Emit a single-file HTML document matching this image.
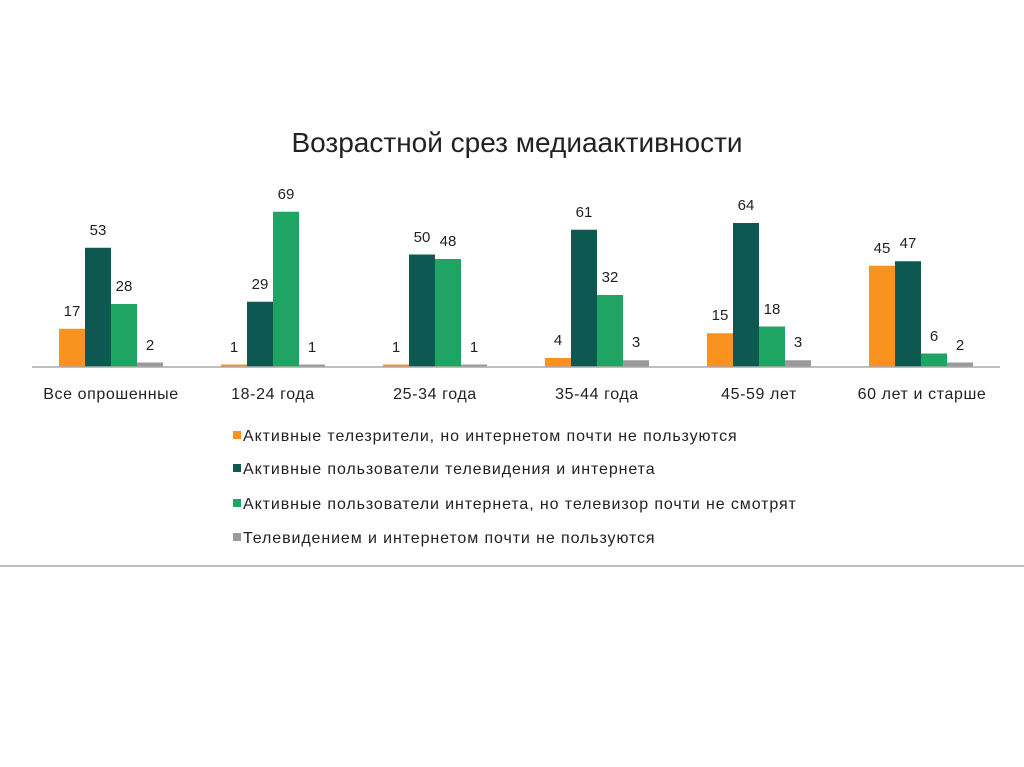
<!DOCTYPE html>
<html><head><meta charset="utf-8"><style>
html,body{margin:0;padding:0;background:#fff;}
svg{display:block;}
text{font-family:"Liberation Sans",sans-serif;fill:#222;}
</style></head><body>
<svg width="1024" height="767" viewBox="0 0 1024 767" xmlns="http://www.w3.org/2000/svg">
<rect width="1024" height="767" fill="#fff"/>
<text x="517" y="152" font-size="28" text-anchor="middle" fill="#333">Возрастной срез медиаактивности</text>
<g>
<rect x="59" y="328.75" width="26" height="38.25" fill="#f7931e"/>
<rect x="85" y="247.75" width="26" height="119.25" fill="#0d5850"/>
<rect x="111" y="304" width="26" height="63" fill="#1fa463"/>
<rect x="137" y="362.5" width="26" height="4.5" fill="#9a9a9a"/>
<rect x="221" y="364.5" width="26" height="2.5" fill="#f7931e"/>
<rect x="247" y="301.75" width="26" height="65.25" fill="#0d5850"/>
<rect x="273" y="211.75" width="26" height="155.25" fill="#1fa463"/>
<rect x="299" y="364.5" width="26" height="2.5" fill="#9a9a9a"/>
<rect x="383" y="364.5" width="26" height="2.5" fill="#f7931e"/>
<rect x="409" y="254.5" width="26" height="112.5" fill="#0d5850"/>
<rect x="435" y="259" width="26" height="108" fill="#1fa463"/>
<rect x="461" y="364.5" width="26" height="2.5" fill="#9a9a9a"/>
<rect x="545" y="358" width="26" height="9" fill="#f7931e"/>
<rect x="571" y="229.75" width="26" height="137.25" fill="#0d5850"/>
<rect x="597" y="295" width="26" height="72" fill="#1fa463"/>
<rect x="623" y="360.25" width="26" height="6.75" fill="#9a9a9a"/>
<rect x="707" y="333.25" width="26" height="33.75" fill="#f7931e"/>
<rect x="733" y="223" width="26" height="144" fill="#0d5850"/>
<rect x="759" y="326.5" width="26" height="40.5" fill="#1fa463"/>
<rect x="785" y="360.25" width="26" height="6.75" fill="#9a9a9a"/>
<rect x="869" y="265.75" width="26" height="101.25" fill="#f7931e"/>
<rect x="895" y="261.25" width="26" height="105.75" fill="#0d5850"/>
<rect x="921" y="353.5" width="26" height="13.5" fill="#1fa463"/>
<rect x="947" y="362.5" width="26" height="4.5" fill="#9a9a9a"/>
</g>
<g font-size="15" text-anchor="middle">
<text x="72" y="316">17</text><text x="98" y="235">53</text><text x="124" y="291">28</text><text x="150" y="350">2</text>
<text x="234" y="352">1</text><text x="260" y="289">29</text><text x="286" y="199">69</text><text x="312" y="352">1</text>
<text x="396" y="352">1</text><text x="422" y="242">50</text><text x="448" y="246">48</text><text x="474" y="352">1</text>
<text x="558" y="345">4</text><text x="584" y="217">61</text><text x="610" y="282">32</text><text x="636" y="347">3</text>
<text x="720" y="320">15</text><text x="746" y="210">64</text><text x="772" y="314">18</text><text x="798" y="347">3</text>
<text x="882" y="253">45</text><text x="908" y="248">47</text><text x="934" y="341">6</text><text x="960" y="350">2</text>
</g>
<line x1="32" y1="367" x2="1000" y2="367" stroke="#aaa" stroke-width="1.5"/>
<g font-size="16" letter-spacing="0.6" text-anchor="middle">
<text x="111" y="399">Все опрошенные</text>
<text x="273" y="399">18-24 года</text>
<text x="435" y="399">25-34 года</text>
<text x="597" y="399">35-44 года</text>
<text x="759" y="399">45-59 лет</text>
<text x="922" y="399">60 лет и старше</text>
</g>
<g font-size="16" letter-spacing="0.9">
<rect x="233" y="431" width="8" height="8" fill="#f7931e"/><text x="243" y="441">Активные телезрители, но интернетом почти не пользуются</text>
<rect x="233" y="464" width="8" height="8" fill="#0d5850"/><text x="243" y="474">Активные пользователи телевидения и интернета</text>
<rect x="233" y="499" width="8" height="8" fill="#1fa463"/><text x="243" y="509">Активные пользователи интернета, но телевизор почти не смотрят</text>
<rect x="233" y="533" width="8" height="8" fill="#9a9a9a"/><text x="243" y="543">Телевидением и интернетом почти не пользуются</text>
</g>
<line x1="0" y1="566" x2="1024" y2="566" stroke="#aaa" stroke-width="1.5"/>
</svg>
</body></html>
